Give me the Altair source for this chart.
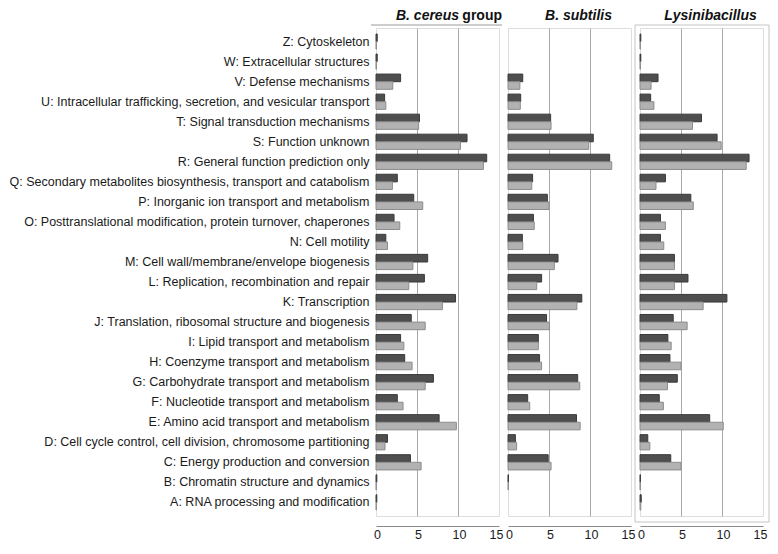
import altair as alt
import pandas as pd

categories = [
    "Z: Cytoskeleton",
    "W: Extracellular structures",
    "V: Defense mechanisms",
    "U: Intracellular trafficking, secretion, and vesicular transport",
    "T: Signal transduction mechanisms",
    "S: Function unknown",
    "R: General function prediction only",
    "Q: Secondary metabolites biosynthesis, transport and catabolism",
    "P: Inorganic ion transport and metabolism",
    "O: Posttranslational modification, protein turnover, chaperones",
    "N: Cell motility",
    "M: Cell wall/membrane/envelope biogenesis",
    "L: Replication, recombination and repair",
    "K: Transcription",
    "J: Translation, ribosomal structure and biogenesis",
    "I: Lipid transport and metabolism",
    "H: Coenzyme transport and metabolism",
    "G: Carbohydrate transport and metabolism",
    "F: Nucleotide transport and metabolism",
    "E: Amino acid transport and metabolism",
    "D: Cell cycle control, cell division, chromosome partitioning",
    "C: Energy production and conversion",
    "B: Chromatin structure and dynamics",
    "A: RNA processing and modification",
]

series_names = ["Series 1", "Series 2"]
panels = ["B. cereus group", "B. subtilis", "Lysinibacillus"]

#                 Z    W    V    U    T    S     R     Q    P    O    N    M    L    K    J    I    H    G    F    E    D    C    B    A
cereus_s1   = [0.15,0.15,3.0, 1.05,5.3, 11.1, 13.5, 2.6, 4.6, 2.2, 1.2, 6.3, 5.9, 9.7, 4.3, 3.0, 3.5, 7.0, 2.6, 7.7, 1.4, 4.2, 0.1, 0.1]
cereus_s2   = [0.05,0.05,2.05,1.2, 5.2, 10.3, 13.1, 2.0, 5.7, 2.9, 1.4, 4.5, 4.0, 8.1, 6.0, 3.4, 4.4, 6.0, 3.3, 9.8, 1.1, 5.5, 0.05,0.05]
subtilis_s1 = [0.0, 0.0, 1.8, 1.55,5.2, 10.4, 12.4, 3.0, 4.8, 3.1, 1.75,6.1, 4.1, 9.0, 4.7, 3.7, 3.85,8.5, 2.4, 8.35,0.9, 4.9, 0.05,0.0]
subtilis_s2 = [0.0, 0.0, 1.45,1.5, 5.25,9.85, 12.65,2.9, 5.0, 3.2, 1.8, 5.65,3.5, 8.4, 5.05,3.7, 4.1, 8.75,2.65,8.8, 1.05,5.25,0.05,0.0]
lysini_s1   = [0.1, 0.1, 2.2, 1.3, 7.5, 9.4,  13.3, 3.1, 6.2, 2.5, 2.5, 4.2, 5.85,10.6,4.05,3.4, 3.65,4.55,2.35,8.5, 0.95,3.75,0.05,0.15]
lysini_s2   = [0.05,0.05,1.35,1.7, 6.4, 9.9,  12.95,1.95,6.5, 3.1, 2.9, 4.2, 4.2, 7.7, 5.75,3.8, 5.0, 3.35,2.85,10.15,1.2,5.0, 0.05,0.1]

x_ticks = [0, 5, 10, 15]

series_values = {
    panels[0]: (cereus_s1, cereus_s2),
    panels[1]: (subtilis_s1, subtilis_s2),
    panels[2]: (lysini_s1, lysini_s2),
}

rows = []
for p, (s1, s2) in series_values.items():
    for cat, v1, v2 in zip(categories, s1, s2):
        rows.append({"panel": p, "category": cat, "series": series_names[0], "value": v1})
        rows.append({"panel": p, "category": cat, "series": series_names[1], "value": v2})
df = pd.DataFrame(rows)

FONT = "Arial"
W = 123
H = 488

fill_scale = alt.Scale(domain=series_names, range=["#4e4e4e", "#b2b2b2"])
stroke_scale = alt.Scale(domain=series_names, range=["#3a3a3a", "#8c8c8c"])

one = pd.DataFrame({"k": [0]})


def panel_chart(idx):
    pname = panels[idx]
    y_axis = alt.Axis(
        title=None, ticks=False, domain=False, labelLimit=0,
        labelFontSize=12.5, labelColor="#1a1a1a", labelPadding=7, labelFont=FONT,
    ) if idx == 0 else None
    bars = alt.Chart(df).transform_filter(
        (alt.datum.panel == pname) & (alt.datum.value > 0)
    ).mark_bar(strokeWidth=1).encode(
        y=alt.Y("category:N", sort=categories, axis=y_axis,
                scale=alt.Scale(domain=categories, paddingInner=0.24, paddingOuter=0.3)),
        yOffset=alt.YOffset("series:N", sort=series_names, scale=alt.Scale(paddingInner=0)),
        x=alt.X("value:Q", scale=alt.Scale(domain=[0, 15], nice=False),
                axis=alt.Axis(
                    values=x_ticks, title=None, ticks=False, grid=True,
                    gridColor="#a8a8a8",
                    gridOpacity={"condition": {"test": "datum.value == 5 || datum.value == 10", "value": 1}, "value": 0},
                    labelOffset={"condition": {"test": "datum.value == 15", "value": -3}, "value": 1},
                    domainColor="#8a8a8a", offset=10, labelFontSize=12.5,
                    labelColor="#1a1a1a", labelPadding=2, labelFont=FONT,
                    labelFlush=False,
                )),
        color=alt.Color("series:N", scale=fill_scale, legend=None),
        stroke=alt.Stroke("series:N", scale=stroke_scale, legend=None),
    )

    ty = -12
    if idx == 0:
        line = alt.Chart(one).mark_rule(color="#9a9a9a", strokeWidth=1).encode(
            x=alt.value(-5), x2=alt.value(W + 3), y=alt.value(-3)
        )
        t1 = alt.Chart(pd.DataFrame({"t": ["group"]})).mark_text(
            font=FONT, fontSize=14, fontWeight="bold", align="right", baseline="middle", color="#111"
        ).encode(text="t:N", x=alt.value(W + 3), y=alt.value(ty))
        t2 = alt.Chart(pd.DataFrame({"t": ["B. cereus"]})).mark_text(
            font=FONT, fontSize=14, fontWeight="bold", fontStyle="italic", align="right",
            baseline="middle", color="#111"
        ).encode(text="t:N", x=alt.value(W - 40), y=alt.value(ty))
        return alt.layer(bars, line, t1, t2).properties(width=W, height=H)
    t = alt.Chart(pd.DataFrame({"t": [pname]})).mark_text(
        font=FONT, fontSize=14, fontWeight="bold", fontStyle="italic", align="center",
        baseline="middle", color="#111"
    ).encode(text="t:N", x=alt.value(W / 2 + 9), y=alt.value(ty))
    if idx == 2:
        frame = alt.Chart(one).mark_rect(filled=False, stroke="#c4c4c4", strokeWidth=1).encode(
            x=alt.value(-5), x2=alt.value(W + 6), y=alt.value(-3), y2=alt.value(H + 6)
        )
        return alt.layer(bars, frame, t).properties(width=W, height=H)
    return alt.layer(bars, t).properties(width=W, height=H)


chart = alt.hconcat(
    panel_chart(0), panel_chart(1), panel_chart(2), spacing=9, bounds="flush"
).properties(
    padding={"left": 0, "top": 0, "right": 0, "bottom": 0}
).configure_view(
    fill="#e6e6e6", stroke=None
).configure(background="white")

chart.save("out.html", embed_options={"renderer": "svg", "actions": False})
